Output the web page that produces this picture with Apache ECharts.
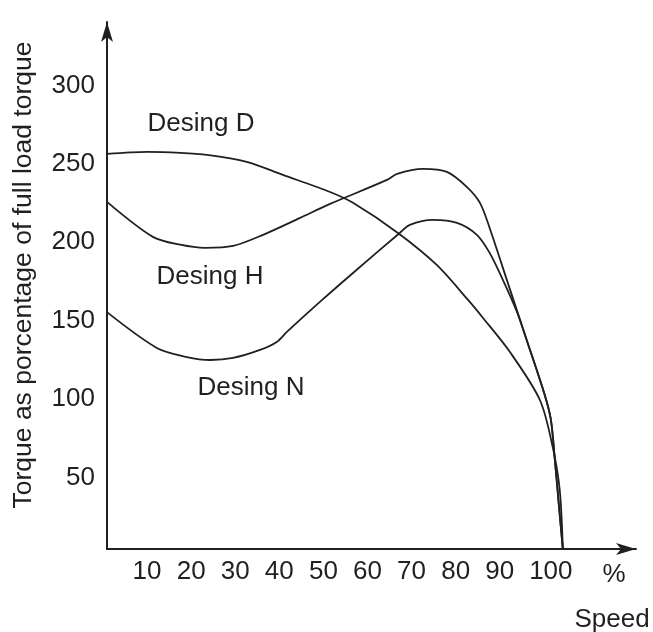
<!DOCTYPE html>
<html>
<head>
<meta charset="utf-8">
<title>Torque vs speed</title>
<script src="https://cdn.jsdelivr.net/npm/echarts@6/dist/echarts.min.js"></script>
<style>
  html, body { margin: 0; padding: 0; background: #fff; }
  #main { width: 653px; height: 632px; }
</style>
</head>
<body>
<div id="main"></div>
<script>
  // speed (%) and torque (% of full load)
  var speedTicks = [10, 20, 30, 40, 50, 60, 70, 80, 90, 100]
  var torqueTicks = [50, 100, 150, 200, 250, 300]

  var designD = [
    [0, 251.9], [9.1, 253.2], [16.6, 252.6], [22.7, 251.3], [31.7, 246.8],
    [39.9, 238.5], [50.6, 227.6], [55.8, 220.7], [66.0, 201.5], [74.8, 181.1],
    [81.9, 158.8], [85.3, 147.3], [91.4, 125.6], [98.2, 95], [101.1, 65.1],
    [102.7, 37.6], [103.4, 0]
  ]
  var designH = [
    [0, 221.3], [10.4, 199], [16.6, 194], [22.2, 192], [28.6, 193.2],
    [35.4, 200.3], [43.8, 211.1], [50.6, 220], [63.5, 235.3], [65.8, 239.2],
    [71.7, 242.3], [77.1, 240.4], [81.6, 230.9], [84.6, 220.7], [86.8, 204.7],
    [90.7, 171.6], [95.2, 133.3], [99.3, 98.2], [100.7, 82.3], [101.6, 56.7],
    [102.5, 28.1], [103.4, 0]
  ]
  var designN = [
    [0, 151], [11.3, 128.2], [18.1, 122.4], [23.4, 120.5], [28.6, 121.8],
    [34.7, 126.9], [38.5, 132], [40.8, 138.4], [48.8, 158.8], [55.8, 176],
    [66.4, 201.5], [68.7, 206.6], [73.9, 209.8], [79.4, 207.9], [83.9, 200.3],
    [86.8, 188.8], [89.8, 171.6], [93.0, 151.1], [95.2, 133.3], [99.3, 98.2],
    [100.7, 82.3], [101.6, 56.7], [102.5, 28.1], [103.4, 0]
  ]

  var ink = '#231f20'
  var sans = "'Liberation Sans', Arial, sans-serif"

  function curve (name, data) {
    return {
      name: name,
      type: 'line',
      data: data,
      smooth: 0.3,
      showSymbol: false,
      silent: true,
      lineStyle: { color: ink, width: 1.8 }
    }
  }

  function note (text, x, y, size, rotation) {
    return {
      type: 'text',
      x: x,
      y: y,
      rotation: rotation || 0,
      style: { text: text, font: size + 'px ' + sans, fill: ink, align: 'center', verticalAlign: 'middle' }
    }
  }

  var myChart = echarts.init(document.getElementById('main'))
  var option = {
    animation: false,
    backgroundColor: '#fff',
    grid: { left: 107, right: 17, top: 22, bottom: 83, containLabel: false, outerBoundsMode: 'none' },
    xAxis: {
      type: 'value',
      min: 0,
      max: 120,
      splitLine: { show: false },
      axisTick: { show: false },
      axisLine: { lineStyle: { color: ink, width: 2 }, symbol: ['none', 'arrow'], symbolSize: [9, 20] },
      axisLabel: {
        customValues: speedTicks,
        margin: 10,
        formatter: function (v) { return v === 100 ? '{w|100}' : '{a|' + v + '}' },
        rich: {
          a: { fontFamily: sans, fontSize: 26, color: ink, padding: [0, 8, 0, 0] },
          w: { fontFamily: sans, fontSize: 26, color: ink, padding: [0, 0, 0, 6] }
        }
      }
    },
    yAxis: {
      type: 'value',
      min: 0,
      max: 336,
      splitLine: { show: false },
      axisTick: { show: false },
      axisLine: { onZero: false, lineStyle: { color: ink, width: 2 }, symbol: ['none', 'arrow'], symbolSize: [9, 20] },
      axisLabel: {
        customValues: torqueTicks,
        margin: 12,
        formatter: function (v) { return '{a|' + v + '}' },
        rich: {
          a: { fontFamily: sans, fontSize: 26, color: ink, padding: [14, 0, 0, 0] }
        }
      }
    },
    graphic: [
      note('Desing D', 201, 124, 26),
      note('Desing H', 210, 277, 26),
      note('Desing N', 251, 388, 26),
      note('%', 614, 575, 26),
      note('Speed', 612, 620, 26),
      note('Torque as porcentage of full load torque', 24, 275, 26.5, Math.PI / 2)
    ],
    series: [
      curve('Desing D', designD),
      curve('Desing H', designH),
      curve('Desing N', designN)
    ]
  }
  myChart.setOption(option)
</script>
</body>
</html>
